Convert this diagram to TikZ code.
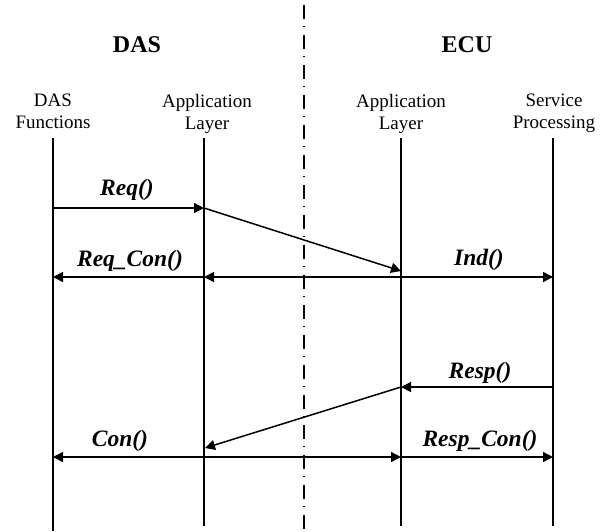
\documentclass[tikz,border=0pt]{standalone}
\usepackage{fontspec}
\setmainfont{Liberation Serif}
\usetikzlibrary{arrows.meta}
\begin{document}
\begin{tikzpicture}[x=1pt,y=-1pt,
  life/.style={line width=1.5pt},
  msg/.style={line width=1.5pt,-{Triangle[length=10pt,width=10pt]}},
  divider/.style={line width=1.8pt,dash pattern=on 14pt off 7pt on 1pt off 8pt},
  head/.style={font=\fontsize{24}{28}\selectfont\bfseries,anchor=base,inner sep=0pt},
  col/.style={font=\fontsize{19}{22}\selectfont,align=center,anchor=north,inner sep=0pt},
  lbl/.style={font=\fontsize{23.5}{27}\selectfont\bfseries\itshape,anchor=base,inner sep=0pt}]
\useasboundingbox (0,0) rectangle (603,531);

% divider
\coordinate (dtop) at (304,5);
\coordinate (dbot) at (304,531);
\draw[divider] (dtop) -- (dbot);

% headers
\node[head] (das) at (137,52) {DAS};
\node[head] (ecu) at (467,52) {ECU};

% column labels
\node[col] (c1) at (53,94) {DAS\\Functions};
\node[col] (c2) at (207,94) {Application\\Layer};
\node[col] (c3) at (401,94) {Application\\Layer};
\node[col] (c4) at (554,94) {Service\\Processing};

% lifelines
\coordinate (t1) at (53,138);  \coordinate (b1) at (53,531);
\coordinate (t2) at (204,138); \coordinate (b2) at (204,526);
\coordinate (t3) at (401,138); \coordinate (b3) at (401,526);
\coordinate (t4) at (553,138); \coordinate (b4) at (553,526);
\draw[life] (t1) -- (b1);
\draw[life] (t2) -- (b2);
\draw[life] (t3) -- (b3);
\draw[life] (t4) -- (b4);

% message points
\coordinate (a1) at (53,208);  \coordinate (a2) at (204,208);
\coordinate (d3) at (401,271);
\coordinate (e1) at (53,277);  \coordinate (e2) at (204,277);
\coordinate (e3) at (401,277); \coordinate (e4) at (553,277);
\coordinate (f3) at (401,387); \coordinate (f4) at (553,387);
\coordinate (g2) at (205,448);
\coordinate (h1) at (53,457);  \coordinate (h2) at (204,457);
\coordinate (h3) at (401,457); \coordinate (h4) at (553,457);

% messages
\draw[msg] (a1) -- (a2);
\draw[msg] (a2) -- (d3);
\draw[msg] (e2) -- (e1);
\draw[msg] (e3) -- (e2);
\draw[msg] (e3) -- (e4);
\draw[msg] (f4) -- (f3);
\draw[msg] (f3) -- (g2);
\draw[msg] (h2) -- (h1);
\draw[msg] (h2) -- (h3);
\draw[msg] (h3) -- (h4);

% labels
\node[lbl] (l1) at (127,195) {Req()};
\node[lbl] (l2) at (130,266) {Req\_Con()};
\node[lbl] (l3) at (479,265) {Ind()};
\node[lbl] (l4) at (480,378) {Resp()};
\node[lbl] (l5) at (120,446) {Con()};
\node[lbl] (l6) at (480,446) {Resp\_Con()};
\end{tikzpicture}
\end{document}
